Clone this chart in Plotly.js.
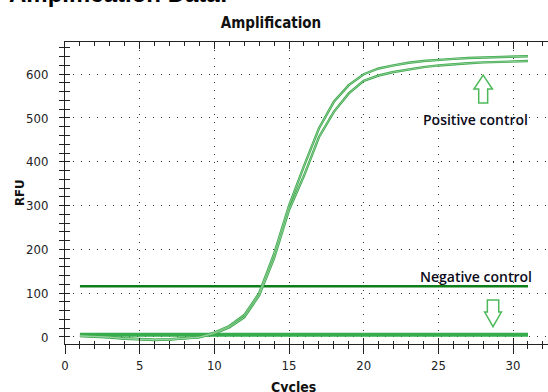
<!DOCTYPE html>
<html><head><meta charset="utf-8">
<script src="https://cdn.plot.ly/plotly-3.0.1.min.js"></script>
<style>html,body{margin:0;padding:0;background:#fff}</style>
</head><body><div id="chart" style="width:548px;height:392px"></div>
<script>
// ---- data ----
const cycles = [1,2,3,4,5,6,7,8,9,10,11,12,13,14,15,16,17,18,19,20,21,22,23,24,25,26,27,28,29,30,31];
const positiveA = [3,2,0,-3,-5,-6,-5,-3,0,10,25,50,100,190,300,390,476,537,575,600,613,620,626,630,633,635,637,638,639,640,641];
const positiveB = [2,1,-1,-4,-6,-7,-6,-4,-1,8,22,45,95,180,290,368,456,514,556,585,597,605,611,616,620,623,625,627,628,629,630];
const negative  = [5,5,5,5,5,5,5,5,5,5,5,5,5,5,5,5,5,5,5,5,5,5,5,5,5,5,5,5,5,5,5];
const thresholdX = [1,31];
const thresholdY = [116,116];
const xTicks = [0,5,10,15,20,25,30];
const yTicks = [0,100,200,300,400,500,600];

const NARROW = '"Liberation Sans Narrow","DejaVu Sans Condensed","Arial Narrow",sans-serif';
const XR = [0, 32.34], YR = [-16, 673.5];

const traces = [
  {x:cycles, y:negative, mode:'lines', line:{color:'#36ad4c', width:4}, hoverinfo:'skip', showlegend:false},
  {x:thresholdX, y:thresholdY, mode:'lines', line:{color:'#0e7f18', width:2.5}, hoverinfo:'skip', showlegend:false},
  {x:cycles, y:positiveA, mode:'lines', line:{color:'#3ea84c', width:2.4}, hoverinfo:'skip', showlegend:false},
  {x:cycles, y:positiveB, mode:'lines', line:{color:'#3ea84c', width:2.4}, hoverinfo:'skip', showlegend:false},
  {x:cycles, y:positiveA, mode:'lines', line:{color:'#a9dcb0', width:0.7}, hoverinfo:'skip', showlegend:false},
  {x:cycles, y:positiveB, mode:'lines', line:{color:'#a9dcb0', width:0.7}, hoverinfo:'skip', showlegend:false},
  // carriers for the overlay tick axes
  {x:[null], y:[null], xaxis:'x2', yaxis:'y', hoverinfo:'skip', showlegend:false},
  {x:[null], y:[null], xaxis:'x3', yaxis:'y', hoverinfo:'skip', showlegend:false},
  {x:[null], y:[null], xaxis:'x', yaxis:'y2', hoverinfo:'skip', showlegend:false}
];

const ink = '#222';
const grid = {showgrid:true, gridcolor:'#333', gridwidth:1, griddash:'1px,7px'};

const layout = {
  width:548, height:392,
  margin:{l:65, r:0, t:42, b:48},
  paper_bgcolor:'#fff', plot_bgcolor:'#fff',
  showlegend:false,
  title:{text:'<b>Amplification</b>', font:{family:NARROW, size:15, color:'#111'},
         xref:'paper', x:0.4265, xanchor:'center', yref:'container', y:1-23/392, yanchor:'middle'},
  xaxis:Object.assign({range:XR, tickvals:xTicks, ticks:'outside', ticklen:9, tickwidth:1, tickcolor:ink,
    showline:true, linecolor:ink, linewidth:1, zeroline:false,
    minor:{dtick:1, tick0:0, ticks:'outside', ticklen:4, tickcolor:ink, showgrid:false},
    tickfont:{family:NARROW, size:13, color:ink}}, grid),
  xaxis2:{overlaying:'x', anchor:'y', side:'bottom', range:XR, tickvals:xTicks, ticks:'inside', ticklen:6,
    tickcolor:ink, showticklabels:false, showgrid:false, zeroline:false, showline:false,
    minor:{dtick:1, tick0:0, ticks:'inside', ticklen:3, tickcolor:ink, showgrid:false}},
  xaxis3:{overlaying:'x', anchor:'y', side:'top', range:XR, tickvals:xTicks, ticks:'inside', ticklen:7,
    tickcolor:ink, showticklabels:false, showgrid:false, zeroline:false, showline:true, linecolor:ink, linewidth:1,
    minor:{dtick:1, tick0:0, ticks:'inside', ticklen:4, tickcolor:ink, showgrid:false}},
  yaxis:Object.assign({range:YR, tickvals:yTicks, ticks:'outside', ticklen:5, tickwidth:1, tickcolor:ink,
    showline:true, linecolor:ink, linewidth:1, zeroline:false, ticklabelstandoff:8,
    minor:{dtick:20, tick0:0, ticks:'outside', ticklen:5, tickcolor:ink, showgrid:false},
    tickfont:{family:NARROW, size:13, color:ink}}, grid),
  yaxis2:{overlaying:'y', anchor:'x', side:'left', range:YR, tickvals:yTicks, ticks:'inside', ticklen:5,
    tickcolor:ink, showticklabels:false, showgrid:false, zeroline:false, showline:false,
    minor:{dtick:20, tick0:0, ticks:'inside', ticklen:5, tickcolor:ink, showgrid:false}},
  annotations:[
    {text:'<b>Amplification Data:</b>', xref:'paper', x:(7-65)/483, xanchor:'left', yref:'paper', y:1+(42+6.5)/302, yanchor:'middle',
     showarrow:false, font:{family:'"Liberation Sans",Arial,sans-serif', size:24, color:'#000'}},
    {text:'<b>RFU</b>', xref:'paper', x:(19-65)/483, xanchor:'center', yref:'paper', y:0.5, yanchor:'middle', textangle:-90,
     showarrow:false, font:{family:NARROW, size:13, color:'#111'}},
    {text:'<b>Cycles</b>', xref:'x', x:15.27, xanchor:'center', yref:'paper', y:(344-387)/302, yanchor:'middle',
     showarrow:false, font:{family:NARROW, size:14, color:'#111'}},
    {text:'Positive control', xref:'x', x:27.49, xanchor:'center', yref:'y', y:497, yanchor:'middle',
     showarrow:false, font:{family:'"Open Sans", Lato, sans-serif', size:14, color:'#0b0b1a', weight:600}},
    {text:'Negative control', xref:'x', x:27.52, xanchor:'center', yref:'y', y:137, yanchor:'middle',
     showarrow:false, font:{family:'"Open Sans", Lato, sans-serif', size:14, color:'#0b0b1a', weight:600}}
  ],
  shapes:[
    // hollow up arrow (positive control)
    {type:'path', xref:'x', yref:'y',
     path:'M 28.0 598 L 28.62 566 L 28.3 566 L 28.3 534 L 27.7 534 L 27.7 566 L 27.38 566 Z',
     line:{color:'#4cb85a', width:1.5}, fillcolor:'rgba(255,255,255,0)'},
    // hollow down arrow (negative control)
    {type:'path', xref:'x', yref:'y',
     path:'M 28.66 23.5 L 29.22 57 L 29.04 57 L 29.04 84.4 L 28.28 84.4 L 28.28 57 L 28.1 57 Z',
     line:{color:'#4cb85a', width:1.5}, fillcolor:'rgba(255,255,255,0)'}
  ]
};

Plotly.newPlot('chart', traces, layout, {staticPlot:true, displayModeBar:false});
</script>
</body></html>
